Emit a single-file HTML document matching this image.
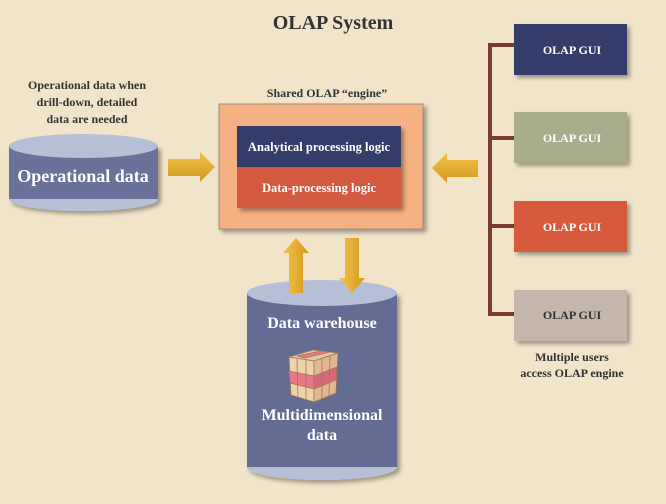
<!DOCTYPE html>
<html><head><meta charset="utf-8"><style>
html,body{margin:0;padding:0;background:#f1e4c9;}
svg{display:block;font-family:"Liberation Serif",serif;font-weight:bold;}
</style></head><body>
<svg width="666" height="504" viewBox="0 0 666 504" xmlns="http://www.w3.org/2000/svg">
<defs>
<filter id="sh" x="-10%" y="-10%" width="130%" height="130%"><feDropShadow dx="3" dy="3" stdDeviation="2" flood-color="#000" flood-opacity="0.35"/></filter>
<linearGradient id="ar" x1="0" y1="0" x2="0" y2="1"><stop offset="0" stop-color="#f2c24a"/><stop offset="1" stop-color="#d49a1c"/></linearGradient>
<linearGradient id="arv" x1="0" y1="0" x2="1" y2="0"><stop offset="0" stop-color="#f2c24a"/><stop offset="1" stop-color="#d49a1c"/></linearGradient>
</defs>
<rect width="666" height="504" fill="#f1e4c9"/>
<text x="333" y="29" font-size="20" text-anchor="middle" fill="#333">OLAP System</text>

<g font-size="12" fill="#333" text-anchor="middle">
<text x="87" y="89">Operational data when</text>
<text x="87" y="106">drill-down, detailed</text>
<text x="87" y="123">data are needed</text>
<text x="327" y="97">Shared OLAP “engine”</text>
<text x="572" y="361">Multiple users</text>
<text x="572" y="377">access OLAP engine</text>
</g>

<!-- operational cylinder -->
<g filter="url(#sh)">
<rect x="9" y="146" width="149" height="53" fill="#6a7299"/>
<ellipse cx="83.5" cy="199" rx="74.5" ry="12" fill="#b7bfd6"/>
</g>
<rect x="9" y="146" width="149" height="53" fill="#6a7299"/>
<path d="M9 199 A74.5 12 0 0 0 158 199 Z" fill="#b7bfd6"/>
<ellipse cx="83.5" cy="146" rx="74.5" ry="12" fill="#b7bfd6"/>
<text x="83" y="182" font-size="18" fill="#fff" text-anchor="middle">Operational data</text>

<!-- right arrow -->
<polygon points="168,159 200,159 200,152 215,167 200,182 200,176 168,176" fill="url(#ar)"/>
<!-- left arrow -->
<polygon points="478,160 447,160 447,153 432,168 447,183 447,177 478,177" fill="url(#ar)"/>

<!-- engine -->
<rect x="219" y="104" width="204" height="125" fill="#f6b183" stroke="#a08a7a" stroke-width="1" filter="url(#sh)"/>
<g filter="url(#sh)">
<rect x="237" y="126" width="164" height="41" fill="#343e6b"/>
<rect x="237" y="167" width="164" height="41" fill="#d35a40"/>
</g>
<text x="319" y="151" font-size="12.5" fill="#fff" text-anchor="middle">Analytical processing logic</text>
<text x="319" y="192" font-size="12.5" fill="#fff" text-anchor="middle">Data-processing logic</text>

<!-- DW cylinder -->
<g filter="url(#sh)">
<rect x="247" y="293" width="150" height="174" fill="#646c93"/>
<ellipse cx="322" cy="467" rx="75" ry="13" fill="#b7bfd6"/>
</g>
<rect x="247" y="293" width="150" height="174" fill="#646c93"/>
<path d="M247 467 A75 13 0 0 0 397 467 Z" fill="#b7bfd6"/>
<ellipse cx="322" cy="293" rx="75" ry="13" fill="#b7bfd6"/>

<!-- up/down arrows -->
<polygon points="289,293 289,253 283,253 296,238 309,253 303,253 303,293" fill="url(#arv)"/>
<polygon points="345,238 359,238 359,278 365,278 352,293 339,278 345,278" fill="url(#arv)"/>

<text x="322" y="328" font-size="16" fill="#fff" text-anchor="middle">Data warehouse</text>
<!-- cube -->
<g stroke="#9a7a5a" stroke-width="0.8">
<polygon points="289,357 313,350 338,353 314,361" fill="#e8c8a0"/>
<polygon points="289,357 314,361 314,402 291,395" fill="#f0d2aa"/>
<polygon points="314,361 338,353 336,393 314,402" fill="#e2b890"/>
<polygon points="289,371 314,376 314,389 290,383" fill="#e87888"/>
<polygon points="314,376 337,367 336,380 314,389" fill="#d86878"/>
<polygon points="297,356 321,351 330,352 305,358" fill="#e87888"/>
<line x1="297" y1="359" x2="298" y2="398"/><line x1="306" y1="360" x2="306" y2="400"/>
<line x1="322" y1="358" x2="322" y2="399"/><line x1="330" y1="355" x2="329" y2="396"/>
</g>
<text x="322" y="420" font-size="16" fill="#fff" text-anchor="middle">Multidimensional</text>
<text x="322" y="440" font-size="16" fill="#fff" text-anchor="middle">data</text>

<!-- GUI tree -->
<g fill="none" stroke="#7a3a2e" stroke-width="4">
<line x1="490" y1="45" x2="490" y2="316"/>
<line x1="488" y1="45" x2="515" y2="45"/>
<line x1="488" y1="138" x2="515" y2="138"/>
<line x1="488" y1="226" x2="515" y2="226"/>
<line x1="488" y1="314" x2="515" y2="314"/>
</g>
<g filter="url(#sh)">
<rect x="514" y="24" width="113" height="51" fill="#343e6b"/>
<rect x="514" y="112" width="113" height="51" fill="#a8ad8e"/>
<rect x="514" y="201" width="113" height="51" fill="#d75a3e"/>
<rect x="514" y="290" width="113" height="51" fill="#c4b6aa"/>
</g>
<g font-size="12" text-anchor="middle">
<text x="572" y="54" fill="#fff">OLAP GUI</text>
<text x="572" y="142" fill="#fff">OLAP GUI</text>
<text x="572" y="231" fill="#fff">OLAP GUI</text>
<text x="572" y="319" fill="#333">OLAP GUI</text>
</g>
</svg>
</body></html>
